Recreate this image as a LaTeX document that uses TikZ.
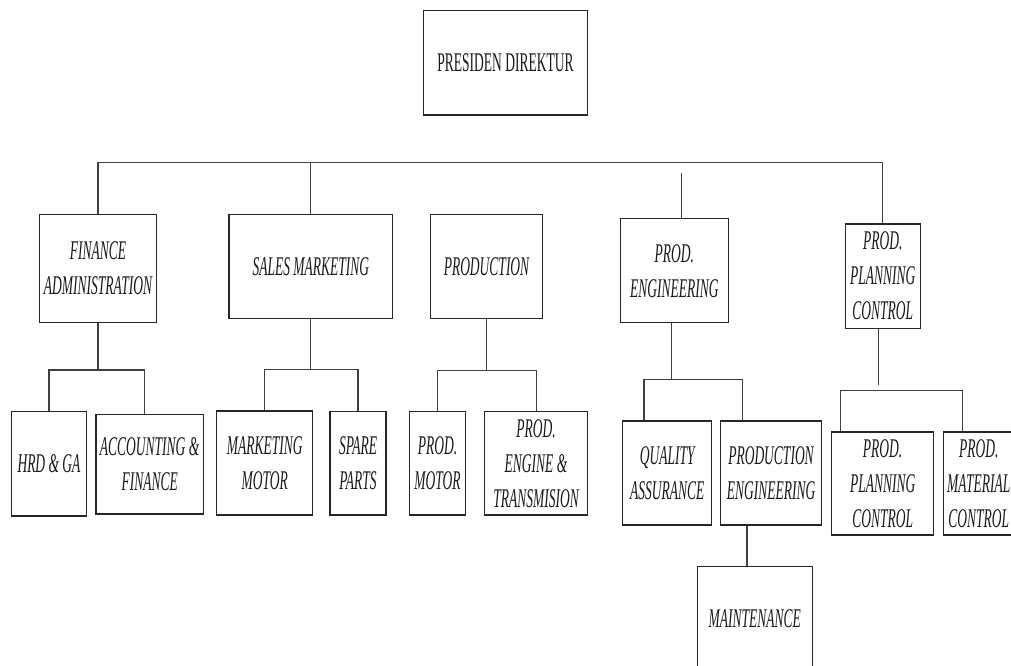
\documentclass[tikz,border=0pt]{standalone}
\usepackage{fontspec}
\setmainfont{Liberation Serif}[FakeStretch=0.5]

% box given by its left, top, right and bottom edges (pixel-like units, y down)
\newcommand\orgunit[6]{%
  \node[unitbox, minimum width={(#4-#2)*0.75pt}, minimum height={(#5-#3)*0.75pt}]
    (#1) at ({(#2+#4)/2},{(#3+#5)/2}) {#6};}

\begin{document}
\begin{tikzpicture}[x=0.75pt, y=-0.75pt,
  unitbox/.style={draw=black!85, line width=0.85pt, fill=white, inner sep=0pt,
    align=center, text=black!90,
    font=\fontsize{20.25pt}{26.25pt}\selectfont\itshape},
  link/.style={draw=black!75, line width=0.8pt}]
\useasboundingbox (0,0) rectangle (1011,666);
\clip (0,0) rectangle (1011,666);

% top level
\orgunit{pres}{423.7}{10.7}{587.3}{115}{\upshape PRESIDEN DIREKTUR}

% departments
\orgunit{fin}{39.3}{214.3}{156.7}{322.7}{FINANCE\\ADMINISTRATION}
\orgunit{sal}{229}{214.3}{392.7}{318.3}{SALES MARKETING}
\orgunit{prd}{430.4}{214.3}{542.6}{318.3}{PRODUCTION}
\orgunit{peng}{620.6}{218.7}{728.1}{322.7}{PROD.\\ENGINEERING}
\orgunit{ppc}{845.4}{224}{920.3}{328.3}{PROD.\\PLANNING\\CONTROL}

% sections
\orgunit{hrd}{11.7}{411.7}{86.3}{516}{HRD \& GA}
\orgunit{acc}{96}{414.3}{203.3}{514}{ACCOUNTING \&\\FINANCE}
\orgunit{mkt}{216.7}{411}{312.7}{515}{MARKETING\\MOTOR}
\orgunit{spr}{330}{411.7}{386}{515}{SPARE\\PARTS}
\orgunit{pmot}{409.4}{411.7}{465.5}{515}{PROD.\\MOTOR}
\orgunit{pet}{484.6}{411.7}{587.5}{515}{PROD.\\ENGINE \&\\TRANSMISION}
\orgunit{qa}{622.9}{421}{711.8}{525}{QUALITY\\ASSURANCE}
\orgunit{proe}{720.3}{421}{821.7}{525}{PRODUCTION\\ENGINEERING}
\orgunit{ppcs}{831.4}{432}{933.9}{535}{PROD.\\PLANNING\\CONTROL}
\orgunit{pmc}{943.6}{432}{1014}{535}{PROD.\\MATERIAL\\CONTROL}
\orgunit{mnt}{697.3}{566.7}{812.3}{670}{MAINTENANCE}

% bus levels and drop positions
\coordinate (topbus) at (0,162.3);
\coordinate (pestub) at (681.4,172.7);
\coordinate (finbus) at (0,370);
\coordinate (accdrop) at (144.3,0);
\coordinate (salbus) at (0,369.3);
\coordinate (prdbus) at (0,370.3);
\coordinate (pebus) at (0,379.7);
\coordinate (pedrop) at (671.6,0);
\coordinate (qadrop) at (644,0);
\coordinate (proedrop) at (742.2,0);
\coordinate (mntdrop) at (747,0);
\coordinate (ppcend) at (878.2,385);
\coordinate (ppcbus) at (0,390.3);
\coordinate (ppcsdrop) at (840.8,0);
\coordinate (pmcdrop) at (962.3,0);

% main bus
\draw[link] (fin.north) -- (fin.north |- topbus) -- (ppc.north |- topbus) -- (ppc.north);
\draw[link] (sal.north) -- (sal.north |- topbus);
\draw[link] (pestub) -- (pestub |- peng.north);

% finance
\draw[link] (fin.south) -- (fin.south |- finbus);
\draw[link] (hrd.north) |- (accdrop |- finbus) -- (accdrop |- acc.north);

% sales
\draw[link] (sal.south) -- (sal.south |- salbus);
\draw[link] (mkt.north) |- (spr.north |- salbus) -- (spr.north);

% production
\draw[link] (prd.south) -- (prd.south |- prdbus);
\draw[link] (pmot.north) |- (pet.north |- prdbus) -- (pet.north);

% engineering
\draw[link] (pedrop |- peng.south) -- (pedrop |- pebus);
\draw[link] (qadrop |- qa.north) |- (proedrop |- pebus) -- (proedrop |- proe.north);
\draw[link] (mntdrop |- proe.south) -- (mntdrop |- mnt.north);

% planning
\draw[link] (ppcend |- ppc.south) -- (ppcend);
\draw[link] (ppcsdrop |- ppcs.north) |- (pmcdrop |- ppcbus) -- (pmcdrop |- pmc.north);
\end{tikzpicture}
\end{document}
